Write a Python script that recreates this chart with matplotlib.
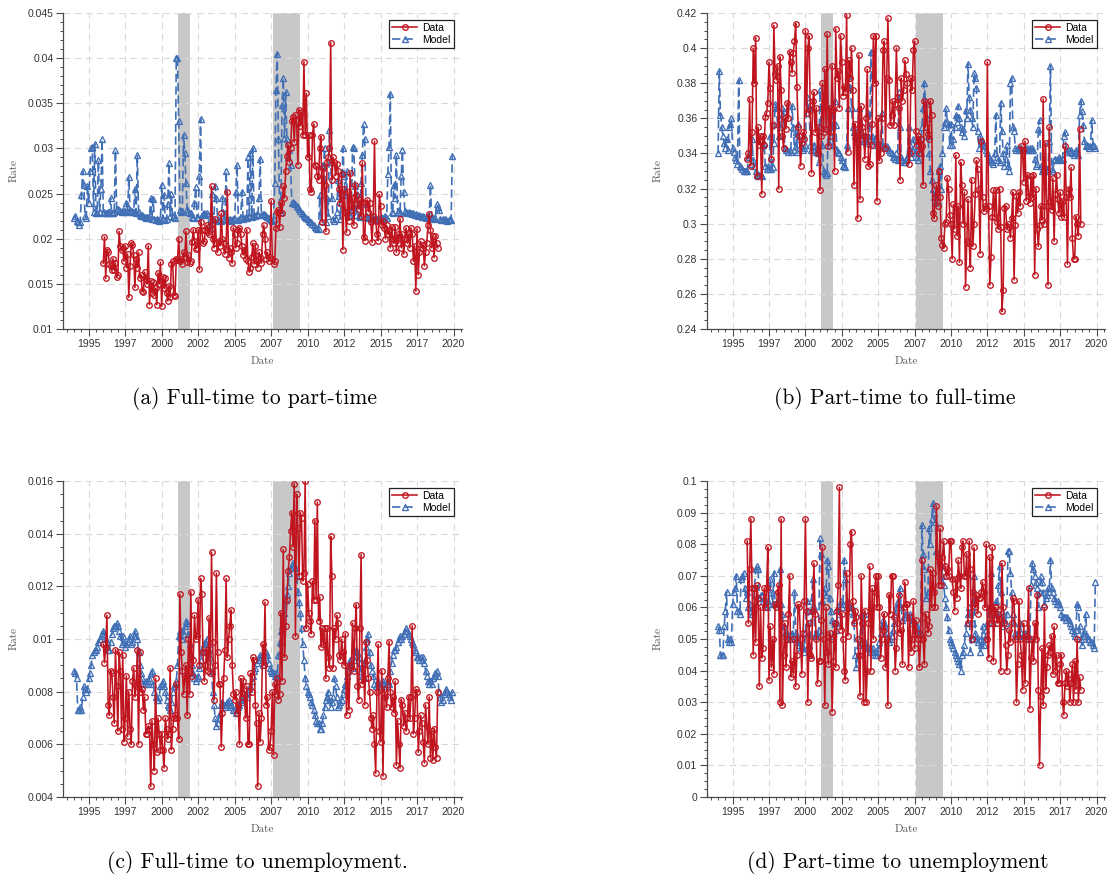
import numpy as np
import matplotlib
matplotlib.use("Agg")
import matplotlib.pyplot as plt
from matplotlib.ticker import MultipleLocator, FuncFormatter

# ── Series: monthly rates, one row per year ──────────────────────────────────
DATA_START = 1996    # data series start Jan 1996
MODEL_START = 1994   # model series start Jan 1994

RECESSIONS = [(2001.10, 2001.92), (2007.60, 2009.48)]

# (a) Full-time to part-time
ft_pt_data = [
    0.0173, 0.0202, 0.0156, 0.0188, 0.0185, 0.0172, 0.0170, 0.0165, 0.0178, 0.0165, 0.0173, 0.0158,  # 1996
    0.0160, 0.0208, 0.0192, 0.0187, 0.0190, 0.0175, 0.0192, 0.0168, 0.0183, 0.0135, 0.0170, 0.0195,  # 1997
    0.0193, 0.0182, 0.0146, 0.0178, 0.0168, 0.0185, 0.0157, 0.0160, 0.0142, 0.0141, 0.0163, 0.0155,  # 1998
    0.0150, 0.0192, 0.0127, 0.0153, 0.0140, 0.0152, 0.0138, 0.0145, 0.0127, 0.0162, 0.0150, 0.0174,  # 1999
    0.0125, 0.0158, 0.0145, 0.0157, 0.0140, 0.0131, 0.0148, 0.0135, 0.0172, 0.0175, 0.0138, 0.0137,  # 2000
    0.0177, 0.0176, 0.0200, 0.0175, 0.0178, 0.0172, 0.0185, 0.0180, 0.0208, 0.0174, 0.0182, 0.0173,  # 2001
    0.0175, 0.0196, 0.0210, 0.0198, 0.0189, 0.0190, 0.0210, 0.0166, 0.0219, 0.0210, 0.0195, 0.0197,  # 2002
    0.0210, 0.0215, 0.0207, 0.0205, 0.0214, 0.0258, 0.0200, 0.0190, 0.0222, 0.0195, 0.0185, 0.0198,  # 2003
    0.0192, 0.0228, 0.0200, 0.0195, 0.0183, 0.0189, 0.0252, 0.0179, 0.0190, 0.0185, 0.0173, 0.0212,  # 2004
    0.0205, 0.0190, 0.0195, 0.0210, 0.0212, 0.0205, 0.0192, 0.0182, 0.0188, 0.0178, 0.0210, 0.0175,  # 2005
    0.0163, 0.0168, 0.0180, 0.0195, 0.0172, 0.0192, 0.0175, 0.0168, 0.0185, 0.0180, 0.0173, 0.0205,  # 2006
    0.0215, 0.0200, 0.0178, 0.0185, 0.0175, 0.0180, 0.0242, 0.0178, 0.0172, 0.0175, 0.0212, 0.0230,  # 2007
    0.0232, 0.0213, 0.0240, 0.0228, 0.0258, 0.0245, 0.0275, 0.0292, 0.0304, 0.0285, 0.0300, 0.0330,  # 2008
    0.0335, 0.0307, 0.0337, 0.0330, 0.0282, 0.0343, 0.0325, 0.0340, 0.0315, 0.0396, 0.0315, 0.0361,  # 2009
    0.0290, 0.0315, 0.0255, 0.0252, 0.0315, 0.0327, 0.0282, 0.0280, 0.0270, 0.0265, 0.0300, 0.0313,  # 2010
    0.0218, 0.0278, 0.0260, 0.0208, 0.0285, 0.0290, 0.0300, 0.0417, 0.0265, 0.0290, 0.0285, 0.0270,  # 2011
    0.0283, 0.0275, 0.0255, 0.0240, 0.0272, 0.0188, 0.0255, 0.0230, 0.0207, 0.0252, 0.0220, 0.0273,  # 2012
    0.0232, 0.0245, 0.0215, 0.0260, 0.0248, 0.0238, 0.0233, 0.0243, 0.0225, 0.0284, 0.0202, 0.0198,  # 2013
    0.0240, 0.0243, 0.0230, 0.0240, 0.0218, 0.0196, 0.0225, 0.0308, 0.0220, 0.0205, 0.0198, 0.0249,  # 2014
    0.0236, 0.0215, 0.0220, 0.0212, 0.0200, 0.0215, 0.0205, 0.0210, 0.0190, 0.0213, 0.0200, 0.0195,  # 2015
    0.0213, 0.0185, 0.0205, 0.0195, 0.0222, 0.0190, 0.0205, 0.0183, 0.0200, 0.0212, 0.0195, 0.0205,  # 2016
    0.0190, 0.0212, 0.0205, 0.0175, 0.0192, 0.0142, 0.0211, 0.0160, 0.0185, 0.0197, 0.0190, 0.0193,  # 2017
    0.0170, 0.0185, 0.0195, 0.0215, 0.0227, 0.0210, 0.0190, 0.0203, 0.0179, 0.0203, 0.0195, 0.0190,  # 2018
]
ft_pt_model = [
    0.0223, 0.0225, 0.0220, 0.0218, 0.0215, 0.0218, 0.0248, 0.0275, 0.0260, 0.0225, 0.0223, 0.0258,  # 1994
    0.0240, 0.0275, 0.0300, 0.0302, 0.0230, 0.0305, 0.0228, 0.0229, 0.0287, 0.0230, 0.0255, 0.0310,  # 1995
    0.0229, 0.0230, 0.0228, 0.0229, 0.0230, 0.0229, 0.0245, 0.0228, 0.0229, 0.0230, 0.0298, 0.0233,  # 1996
    0.0233, 0.0232, 0.0231, 0.0230, 0.0232, 0.0230, 0.0231, 0.0240, 0.0230, 0.0268, 0.0232, 0.0230,  # 1997
    0.0231, 0.0230, 0.0255, 0.0229, 0.0293, 0.0230, 0.0226, 0.0225, 0.0226, 0.0225, 0.0224, 0.0223,  # 1998
    0.0224, 0.0223, 0.0224, 0.0245, 0.0222, 0.0244, 0.0222, 0.0221, 0.0222, 0.0221, 0.0220, 0.0222,  # 1999
    0.0260, 0.0222, 0.0248, 0.0221, 0.0222, 0.0238, 0.0284, 0.0225, 0.0250, 0.0224, 0.0226, 0.0223,  # 2000
    0.0400, 0.0400, 0.0330, 0.0232, 0.0230, 0.0231, 0.0315, 0.0295, 0.0262, 0.0233, 0.0230, 0.0229,  # 2001
    0.0228, 0.0224, 0.0223, 0.0240, 0.0257, 0.0224, 0.0223, 0.0270, 0.0333, 0.0226, 0.0227, 0.0228,  # 2002
    0.0227, 0.0228, 0.0226, 0.0215, 0.0212, 0.0250, 0.0222, 0.0221, 0.0258, 0.0245, 0.0222, 0.0220,  # 2003
    0.0221, 0.0220, 0.0245, 0.0222, 0.0221, 0.0275, 0.0222, 0.0221, 0.0222, 0.0220, 0.0221, 0.0222,  # 2004
    0.0222, 0.0252, 0.0282, 0.0221, 0.0222, 0.0223, 0.0252, 0.0222, 0.0223, 0.0224, 0.0223, 0.0290,  # 2005
    0.0225, 0.0295, 0.0224, 0.0300, 0.0226, 0.0225, 0.0227, 0.0226, 0.0245, 0.0288, 0.0226, 0.0227,  # 2006
    0.0227, 0.0226, 0.0225, 0.0224, 0.0223, 0.0222, 0.0221, 0.0220, 0.0222, 0.0262, 0.0365, 0.0405,  # 2007
    0.0310, 0.0232, 0.0230, 0.0348, 0.0378, 0.0312, 0.0362, 0.0310, 0.0290, 0.0298, 0.0282, 0.0240,  # 2008
    0.0241, 0.0240, 0.0238, 0.0236, 0.0235, 0.0233, 0.0231, 0.0229, 0.0227, 0.0225, 0.0224, 0.0223,  # 2009
    0.0222, 0.0220, 0.0219, 0.0218, 0.0216, 0.0215, 0.0213, 0.0212, 0.0211, 0.0211, 0.0248, 0.0220,  # 2010
    0.0280, 0.0282, 0.0300, 0.0218, 0.0245, 0.0225, 0.0320, 0.0285, 0.0245, 0.0222, 0.0220, 0.0222,  # 2011
    0.0230, 0.0265, 0.0247, 0.0222, 0.0250, 0.0300, 0.0270, 0.0248, 0.0275, 0.0230, 0.0225, 0.0226,  # 2012
    0.0232, 0.0302, 0.0300, 0.0258, 0.0226, 0.0250, 0.0225, 0.0224, 0.0262, 0.0293, 0.0327, 0.0310,  # 2013
    0.0238, 0.0224, 0.0223, 0.0225, 0.0224, 0.0222, 0.0223, 0.0222, 0.0221, 0.0222, 0.0223, 0.0222,  # 2014
    0.0224, 0.0223, 0.0222, 0.0224, 0.0225, 0.0223, 0.0272, 0.0302, 0.0360, 0.0230, 0.0229, 0.0260,  # 2015
    0.0245, 0.0293, 0.0230, 0.0232, 0.0228, 0.0270, 0.0298, 0.0252, 0.0231, 0.0230, 0.0229, 0.0230,  # 2016
    0.0229, 0.0228, 0.0227, 0.0228, 0.0226, 0.0227, 0.0226, 0.0225, 0.0226, 0.0225, 0.0224, 0.0225,  # 2017
    0.0224, 0.0223, 0.0224, 0.0225, 0.0223, 0.0260, 0.0224, 0.0223, 0.0222, 0.0223, 0.0238, 0.0235,  # 2018
    0.0232, 0.0222, 0.0221, 0.0222, 0.0221, 0.0222, 0.0221, 0.0220, 0.0221, 0.0222, 0.0221, 0.0292,  # 2019
]

# (b) Part-time to full-time
pt_ft_data = [
    0.337, 0.340, 0.371, 0.333, 0.352, 0.400, 0.380, 0.406, 0.327, 0.355, 0.345, 0.350,  # 1996
    0.317, 0.350, 0.345, 0.361, 0.363, 0.369, 0.392, 0.377, 0.337, 0.356, 0.413, 0.385,  # 1997
    0.382, 0.390, 0.320, 0.395, 0.376, 0.350, 0.343, 0.360, 0.354, 0.369, 0.360, 0.398,  # 1998
    0.392, 0.386, 0.397, 0.404, 0.414, 0.378, 0.355, 0.350, 0.333, 0.346, 0.352, 0.348,  # 1999
    0.410, 0.363, 0.400, 0.407, 0.365, 0.329, 0.370, 0.375, 0.352, 0.366, 0.340, 0.355,  # 2000
    0.319, 0.350, 0.380, 0.352, 0.388, 0.354, 0.408, 0.344, 0.366, 0.350, 0.390, 0.365,  # 2001
    0.330, 0.411, 0.383, 0.387, 0.366, 0.407, 0.392, 0.373, 0.378, 0.375, 0.419, 0.341,  # 2002
    0.393, 0.383, 0.400, 0.376, 0.322, 0.357, 0.350, 0.303, 0.396, 0.314, 0.367, 0.355,  # 2003
    0.350, 0.337, 0.360, 0.388, 0.333, 0.334, 0.345, 0.357, 0.407, 0.380, 0.407, 0.313,  # 2004
    0.360, 0.336, 0.340, 0.360, 0.399, 0.404, 0.343, 0.383, 0.417, 0.382, 0.356, 0.362,  # 2005
    0.370, 0.356, 0.368, 0.400, 0.372, 0.366, 0.325, 0.383, 0.370, 0.376, 0.393, 0.385,  # 2006
    0.380, 0.334, 0.340, 0.383, 0.376, 0.399, 0.404, 0.353, 0.345, 0.350, 0.340, 0.348,  # 2007
    0.344, 0.322, 0.370, 0.355, 0.368, 0.351, 0.348, 0.370, 0.362, 0.306, 0.303, 0.315,  # 2008
    0.322, 0.310, 0.330, 0.315, 0.292, 0.288, 0.286, 0.300, 0.301, 0.326, 0.320, 0.305,  # 2009
    0.300, 0.280, 0.311, 0.297, 0.339, 0.293, 0.310, 0.278, 0.335, 0.322, 0.300, 0.318,  # 2010
    0.264, 0.290, 0.314, 0.289, 0.275, 0.325, 0.287, 0.300, 0.317, 0.336, 0.331, 0.320,  # 2011
    0.283, 0.347, 0.315, 0.307, 0.310, 0.309, 0.392, 0.310, 0.265, 0.281, 0.304, 0.319,  # 2012
    0.304, 0.319, 0.301, 0.297, 0.320, 0.298, 0.250, 0.262, 0.309, 0.310, 0.297, 0.300,  # 2013
    0.298, 0.292, 0.303, 0.318, 0.268, 0.299, 0.316, 0.306, 0.318, 0.310, 0.344, 0.342,  # 2014
    0.324, 0.347, 0.313, 0.328, 0.316, 0.312, 0.327, 0.315, 0.328, 0.271, 0.320, 0.297,  # 2015
    0.287, 0.299, 0.310, 0.302, 0.371, 0.300, 0.346, 0.310, 0.265, 0.355, 0.313, 0.308,  # 2016
    0.326, 0.290, 0.317, 0.328, 0.314, 0.306, 0.318, 0.304, 0.313, 0.304, 0.344, 0.315,  # 2017
    0.277, 0.320, 0.315, 0.332, 0.292, 0.280, 0.280, 0.304, 0.300, 0.293, 0.354, 0.300,  # 2018
]
pt_ft_model = [
    0.340, 0.387, 0.362, 0.355, 0.350, 0.346, 0.343, 0.348, 0.342, 0.355, 0.357, 0.360,  # 1994
    0.343, 0.341, 0.338, 0.336, 0.334, 0.382, 0.333, 0.332, 0.331, 0.330, 0.330, 0.330,  # 1995
    0.330, 0.338, 0.341, 0.334, 0.348, 0.336, 0.333, 0.330, 0.328, 0.327, 0.328, 0.328,  # 1996
    0.327, 0.345, 0.346, 0.333, 0.331, 0.333, 0.331, 0.350, 0.331, 0.332, 0.346, 0.368,  # 1997
    0.366, 0.357, 0.350, 0.355, 0.360, 0.366, 0.364, 0.343, 0.342, 0.342, 0.341, 0.342,  # 1998
    0.341, 0.367, 0.355, 0.342, 0.352, 0.341, 0.357, 0.348, 0.345, 0.343, 0.342, 0.343,  # 1999
    0.345, 0.372, 0.366, 0.367, 0.345, 0.342, 0.344, 0.345, 0.342, 0.341, 0.340, 0.335,  # 2000
    0.376, 0.355, 0.345, 0.330, 0.329, 0.328, 0.329, 0.366, 0.345, 0.355, 0.362, 0.345,  # 2001
    0.370, 0.356, 0.342, 0.341, 0.340, 0.338, 0.336, 0.333, 0.333, 0.332, 0.345, 0.366,  # 2002
    0.384, 0.378, 0.366, 0.355, 0.352, 0.350, 0.349, 0.347, 0.366, 0.358, 0.352, 0.349,  # 2003
    0.347, 0.350, 0.346, 0.347, 0.363, 0.348, 0.398, 0.350, 0.345, 0.349, 0.348, 0.346,  # 2004
    0.345, 0.344, 0.345, 0.363, 0.344, 0.344, 0.343, 0.344, 0.343, 0.342, 0.341, 0.340,  # 2005
    0.338, 0.338, 0.337, 0.340, 0.336, 0.375, 0.355, 0.338, 0.336, 0.335, 0.335, 0.336,  # 2006
    0.338, 0.355, 0.345, 0.338, 0.342, 0.348, 0.344, 0.340, 0.338, 0.336, 0.348, 0.340,  # 2007
    0.355, 0.366, 0.380, 0.370, 0.360, 0.350, 0.340, 0.330, 0.325, 0.320, 0.315, 0.312,  # 2008
    0.318, 0.313, 0.330, 0.333, 0.320, 0.340, 0.355, 0.358, 0.366, 0.358, 0.357, 0.345,  # 2009
    0.357, 0.345, 0.348, 0.355, 0.362, 0.358, 0.367, 0.360, 0.355, 0.352, 0.354, 0.350,  # 2010
    0.365, 0.360, 0.391, 0.372, 0.365, 0.360, 0.355, 0.386, 0.383, 0.377, 0.353, 0.343,  # 2011
    0.350, 0.347, 0.346, 0.345, 0.344, 0.342, 0.340, 0.338, 0.337, 0.336, 0.335, 0.334,  # 2012
    0.340, 0.362, 0.338, 0.336, 0.335, 0.369, 0.353, 0.340, 0.333, 0.337, 0.345, 0.333,  # 2013
    0.330, 0.380, 0.383, 0.355, 0.353, 0.343, 0.342, 0.343, 0.342, 0.343, 0.343, 0.342,  # 2014
    0.342, 0.343, 0.342, 0.343, 0.342, 0.343, 0.342, 0.343, 0.342, 0.337, 0.333, 0.334,  # 2015
    0.354, 0.359, 0.333, 0.330, 0.331, 0.330, 0.331, 0.330, 0.331, 0.347, 0.390, 0.331,  # 2016
    0.330, 0.336, 0.337, 0.336, 0.337, 0.338, 0.337, 0.336, 0.337, 0.350, 0.352, 0.342,  # 2017
    0.341, 0.342, 0.341, 0.342, 0.340, 0.339, 0.341, 0.342, 0.340, 0.339, 0.362, 0.370,  # 2018
    0.364, 0.356, 0.347, 0.344, 0.345, 0.344, 0.343, 0.344, 0.359, 0.345, 0.344, 0.343,  # 2019
]

# (c) Full-time to unemployment
ft_un_data = [
    0.0098, 0.0091, 0.0097, 0.0109, 0.0075, 0.0071, 0.0088, 0.0087, 0.0078, 0.0068, 0.0096, 0.0082,  # 1996
    0.0065, 0.0095, 0.0088, 0.0066, 0.0094, 0.0061, 0.0070, 0.0086, 0.0063, 0.0080, 0.0066, 0.0060,  # 1997
    0.0084, 0.0089, 0.0078, 0.0082, 0.0096, 0.0060, 0.0095, 0.0080, 0.0081, 0.0073, 0.0078, 0.0064,  # 1998
    0.0064, 0.0067, 0.0066, 0.0044, 0.0069, 0.0060, 0.0050, 0.0085, 0.0057, 0.0070, 0.0064, 0.0058,  # 1999
    0.0064, 0.0058, 0.0051, 0.0070, 0.0066, 0.0062, 0.0064, 0.0089, 0.0058, 0.0066, 0.0070, 0.0071,  # 2000
    0.0083, 0.0070, 0.0062, 0.0117, 0.0095, 0.0088, 0.0079, 0.0085, 0.0090, 0.0071, 0.0100, 0.0079,  # 2001
    0.0118, 0.0086, 0.0092, 0.0109, 0.0100, 0.0101, 0.0115, 0.0090, 0.0123, 0.0117, 0.0095, 0.0084,  # 2002
    0.0090, 0.0096, 0.0088, 0.0108, 0.0087, 0.0133, 0.0099, 0.0077, 0.0090, 0.0125, 0.0095, 0.0083,  # 2003
    0.0083, 0.0059, 0.0072, 0.0085, 0.0096, 0.0123, 0.0093, 0.0100, 0.0105, 0.0111, 0.0090, 0.0079,  # 2004
    0.0077, 0.0080, 0.0072, 0.0075, 0.0060, 0.0085, 0.0078, 0.0084, 0.0079, 0.0070, 0.0082, 0.0060,  # 2005
    0.0060, 0.0087, 0.0080, 0.0093, 0.0092, 0.0075, 0.0068, 0.0044, 0.0072, 0.0061, 0.0070, 0.0098,  # 2006
    0.0090, 0.0114, 0.0075, 0.0078, 0.0058, 0.0059, 0.0065, 0.0080, 0.0056, 0.0083, 0.0079, 0.0085,  # 2007
    0.0077, 0.0079, 0.0110, 0.0084, 0.0134, 0.0093, 0.0105, 0.0115, 0.0126, 0.0131, 0.0141, 0.0148,  # 2008
    0.0135, 0.0159, 0.0101, 0.0155, 0.0142, 0.0124, 0.0148, 0.0146, 0.0122, 0.0125, 0.0160, 0.0104,  # 2009
    0.0121, 0.0110, 0.0107, 0.0102, 0.0122, 0.0115, 0.0145, 0.0115, 0.0152, 0.0107, 0.0116, 0.0097,  # 2010
    0.0104, 0.0098, 0.0104, 0.0085, 0.0104, 0.0093, 0.0089, 0.0139, 0.0124, 0.0089, 0.0104, 0.0100,  # 2011
    0.0109, 0.0106, 0.0094, 0.0092, 0.0100, 0.0095, 0.0090, 0.0102, 0.0071, 0.0088, 0.0073, 0.0090,  # 2012
    0.0090, 0.0106, 0.0088, 0.0104, 0.0113, 0.0082, 0.0077, 0.0104, 0.0132, 0.0083, 0.0090, 0.0075,  # 2013
    0.0099, 0.0092, 0.0085, 0.0080, 0.0070, 0.0066, 0.0071, 0.0060, 0.0049, 0.0080, 0.0098, 0.0065,  # 2014
    0.0061, 0.0088, 0.0048, 0.0081, 0.0078, 0.0074, 0.0085, 0.0099, 0.0080, 0.0074, 0.0078, 0.0072,  # 2015
    0.0084, 0.0052, 0.0069, 0.0060, 0.0051, 0.0077, 0.0075, 0.0067, 0.0072, 0.0065, 0.0070, 0.0078,  # 2016
    0.0070, 0.0078, 0.0105, 0.0064, 0.0070, 0.0081, 0.0080, 0.0057, 0.0065, 0.0071, 0.0068, 0.0061,  # 2017
    0.0053, 0.0075, 0.0067, 0.0060, 0.0078, 0.0055, 0.0065, 0.0054, 0.0066, 0.0059, 0.0055, 0.0080,  # 2018
]
ft_un_model = [
    0.0088, 0.0087, 0.0085, 0.0073, 0.0073, 0.0074, 0.0073, 0.0078, 0.0082, 0.0081, 0.0080, 0.0081,  # 1994
    0.0085, 0.0087, 0.0090, 0.0094, 0.0095, 0.0096, 0.0096, 0.0097, 0.0099, 0.0100, 0.0101, 0.0102,  # 1995
    0.0103, 0.0102, 0.0100, 0.0097, 0.0096, 0.0096, 0.0099, 0.0102, 0.0104, 0.0105, 0.0105, 0.0106,  # 1996
    0.0105, 0.0103, 0.0101, 0.0098, 0.0101, 0.0099, 0.0097, 0.0098, 0.0099, 0.0100, 0.0101, 0.0098,  # 1997
    0.0099, 0.0101, 0.0103, 0.0101, 0.0100, 0.0095, 0.0090, 0.0087, 0.0085, 0.0083, 0.0083, 0.0084,  # 1998
    0.0083, 0.0084, 0.0085, 0.0087, 0.0088, 0.0083, 0.0080, 0.0078, 0.0077, 0.0077, 0.0078, 0.0082,  # 1999
    0.0083, 0.0084, 0.0082, 0.0080, 0.0077, 0.0075, 0.0074, 0.0073, 0.0076, 0.0080, 0.0082, 0.0083,  # 2000
    0.0084, 0.0090, 0.0101, 0.0103, 0.0103, 0.0100, 0.0102, 0.0105, 0.0107, 0.0106, 0.0102, 0.0098,  # 2001
    0.0094, 0.0090, 0.0087, 0.0085, 0.0084, 0.0085, 0.0086, 0.0089, 0.0092, 0.0095, 0.0097, 0.0098,  # 2002
    0.0099, 0.0100, 0.0098, 0.0096, 0.0093, 0.0088, 0.0080, 0.0075, 0.0070, 0.0067, 0.0068, 0.0070,  # 2003
    0.0072, 0.0075, 0.0076, 0.0075, 0.0074, 0.0075, 0.0076, 0.0077, 0.0076, 0.0075, 0.0074, 0.0073,  # 2004
    0.0073, 0.0072, 0.0073, 0.0074, 0.0075, 0.0077, 0.0076, 0.0077, 0.0078, 0.0079, 0.0078, 0.0080,  # 2005
    0.0081, 0.0082, 0.0084, 0.0086, 0.0088, 0.0089, 0.0091, 0.0092, 0.0093, 0.0094, 0.0093, 0.0090,  # 2006
    0.0092, 0.0094, 0.0095, 0.0094, 0.0091, 0.0089, 0.0088, 0.0087, 0.0087, 0.0086, 0.0087, 0.0085,  # 2007
    0.0094, 0.0099, 0.0103, 0.0105, 0.0107, 0.0110, 0.0115, 0.0117, 0.0120, 0.0125, 0.0127, 0.0128,  # 2008
    0.0129, 0.0128, 0.0127, 0.0124, 0.0118, 0.0114, 0.0110, 0.0104, 0.0098, 0.0092, 0.0085, 0.0082,  # 2009
    0.0080, 0.0079, 0.0078, 0.0076, 0.0075, 0.0073, 0.0071, 0.0069, 0.0068, 0.0068, 0.0066, 0.0066,  # 2010
    0.0068, 0.0071, 0.0074, 0.0077, 0.0078, 0.0080, 0.0077, 0.0074, 0.0076, 0.0078, 0.0085, 0.0082,  # 2011
    0.0078, 0.0074, 0.0075, 0.0076, 0.0077, 0.0079, 0.0081, 0.0083, 0.0086, 0.0088, 0.0090, 0.0092,  # 2012
    0.0091, 0.0089, 0.0092, 0.0094, 0.0096, 0.0095, 0.0093, 0.0091, 0.0088, 0.0086, 0.0085, 0.0092,  # 2013
    0.0097, 0.0100, 0.0102, 0.0095, 0.0090, 0.0088, 0.0086, 0.0083, 0.0082, 0.0083, 0.0084, 0.0083,  # 2014
    0.0082, 0.0083, 0.0084, 0.0083, 0.0082, 0.0083, 0.0084, 0.0083, 0.0088, 0.0091, 0.0094, 0.0096,  # 2015
    0.0096, 0.0097, 0.0099, 0.0100, 0.0101, 0.0100, 0.0101, 0.0102, 0.0103, 0.0104, 0.0103, 0.0102,  # 2016
    0.0101, 0.0100, 0.0099, 0.0098, 0.0096, 0.0095, 0.0093, 0.0093, 0.0092, 0.0093, 0.0092, 0.0093,  # 2017
    0.0091, 0.0088, 0.0086, 0.0084, 0.0083, 0.0084, 0.0083, 0.0085, 0.0086, 0.0087, 0.0088, 0.0086,  # 2018
    0.0080, 0.0078, 0.0076, 0.0077, 0.0079, 0.0080, 0.0081, 0.0080, 0.0079, 0.0078, 0.0077, 0.0080,  # 2019
]

# (d) Part-time to unemployment
pt_un_data = [
    0.081, 0.055, 0.072, 0.088, 0.066, 0.045, 0.066, 0.049, 0.067, 0.063, 0.035, 0.060,  # 1996
    0.044, 0.047, 0.066, 0.060, 0.066, 0.079, 0.037, 0.054, 0.041, 0.050, 0.039, 0.061,  # 1997
    0.060, 0.065, 0.067, 0.030, 0.088, 0.029, 0.045, 0.055, 0.041, 0.050, 0.058, 0.070,  # 1998
    0.038, 0.043, 0.039, 0.050, 0.035, 0.045, 0.061, 0.060, 0.050, 0.039, 0.052, 0.062,  # 1999
    0.088, 0.059, 0.030, 0.055, 0.045, 0.044, 0.059, 0.074, 0.058, 0.050, 0.036, 0.043,  # 2000
    0.043, 0.056, 0.079, 0.050, 0.029, 0.060, 0.046, 0.042, 0.052, 0.050, 0.027, 0.043,  # 2001
    0.055, 0.041, 0.059, 0.067, 0.098, 0.053, 0.058, 0.050, 0.040, 0.037, 0.071, 0.051,  # 2002
    0.060, 0.080, 0.084, 0.062, 0.055, 0.059, 0.057, 0.050, 0.045, 0.032, 0.070, 0.055,  # 2003
    0.030, 0.059, 0.030, 0.040, 0.055, 0.073, 0.040, 0.066, 0.050, 0.065, 0.070, 0.060,  # 2004
    0.070, 0.060, 0.044, 0.050, 0.053, 0.058, 0.041, 0.050, 0.029, 0.064, 0.058, 0.070,  # 2005
    0.070, 0.057, 0.040, 0.047, 0.055, 0.064, 0.052, 0.053, 0.042, 0.060, 0.068, 0.061,  # 2006
    0.061, 0.041, 0.057, 0.046, 0.050, 0.062, 0.047, 0.056, 0.052, 0.050, 0.041, 0.050,  # 2007
    0.075, 0.050, 0.042, 0.058, 0.056, 0.052, 0.054, 0.072, 0.060, 0.071, 0.065, 0.060,  # 2008
    0.092, 0.076, 0.067, 0.085, 0.067, 0.076, 0.081, 0.073, 0.070, 0.072, 0.070, 0.081,  # 2009
    0.081, 0.069, 0.065, 0.059, 0.069, 0.063, 0.075, 0.070, 0.066, 0.079, 0.081, 0.070,  # 2010
    0.070, 0.077, 0.055, 0.081, 0.072, 0.050, 0.065, 0.079, 0.060, 0.064, 0.058, 0.063,  # 2011
    0.063, 0.065, 0.068, 0.065, 0.060, 0.080, 0.050, 0.044, 0.076, 0.055, 0.079, 0.043,  # 2012
    0.060, 0.060, 0.055, 0.058, 0.056, 0.040, 0.074, 0.060, 0.055, 0.048, 0.040, 0.045,  # 2013
    0.053, 0.049, 0.055, 0.063, 0.062, 0.050, 0.030, 0.042, 0.062, 0.050, 0.045, 0.034,  # 2014
    0.055, 0.036, 0.050, 0.051, 0.066, 0.028, 0.044, 0.050, 0.043, 0.055, 0.050, 0.064,  # 2015
    0.034, 0.010, 0.032, 0.047, 0.029, 0.060, 0.034, 0.041, 0.045, 0.048, 0.046, 0.051,  # 2016
    0.039, 0.054, 0.040, 0.045, 0.036, 0.036, 0.042, 0.045, 0.030, 0.026, 0.036, 0.040,  # 2017
    0.035, 0.039, 0.030, 0.036, 0.042, 0.030, 0.043, 0.034, 0.050, 0.030, 0.038, 0.034,  # 2018
]
pt_un_model = [
    0.054, 0.053, 0.045, 0.045, 0.045, 0.054, 0.059, 0.065, 0.050, 0.049, 0.050, 0.049,  # 1994
    0.061, 0.065, 0.066, 0.070, 0.059, 0.059, 0.058, 0.069, 0.070, 0.071, 0.066, 0.063,  # 1995
    0.065, 0.060, 0.061, 0.059, 0.058, 0.060, 0.066, 0.072, 0.073, 0.072, 0.063, 0.064,  # 1996
    0.064, 0.062, 0.063, 0.061, 0.060, 0.062, 0.061, 0.069, 0.065, 0.061, 0.071, 0.061,  # 1997
    0.061, 0.062, 0.061, 0.072, 0.061, 0.058, 0.054, 0.052, 0.051, 0.052, 0.051, 0.050,  # 1998
    0.051, 0.052, 0.051, 0.065, 0.052, 0.050, 0.049, 0.048, 0.047, 0.048, 0.047, 0.046,  # 1999
    0.052, 0.062, 0.059, 0.048, 0.045, 0.062, 0.069, 0.060, 0.051, 0.052, 0.051, 0.053,  # 2000
    0.082, 0.077, 0.062, 0.065, 0.066, 0.064, 0.075, 0.073, 0.063, 0.059, 0.056, 0.051,  # 2001
    0.055, 0.053, 0.055, 0.060, 0.058, 0.062, 0.060, 0.061, 0.075, 0.069, 0.062, 0.061,  # 2002
    0.060, 0.059, 0.060, 0.058, 0.056, 0.045, 0.041, 0.045, 0.048, 0.050, 0.058, 0.049,  # 2003
    0.058, 0.049, 0.047, 0.048, 0.047, 0.046, 0.047, 0.046, 0.047, 0.045, 0.046, 0.045,  # 2004
    0.047, 0.049, 0.052, 0.054, 0.056, 0.055, 0.054, 0.052, 0.050, 0.049, 0.050, 0.051,  # 2005
    0.053, 0.055, 0.058, 0.060, 0.062, 0.061, 0.066, 0.060, 0.056, 0.057, 0.058, 0.057,  # 2006
    0.058, 0.057, 0.058, 0.057, 0.055, 0.056, 0.055, 0.053, 0.054, 0.053, 0.052, 0.052,  # 2007
    0.086, 0.077, 0.072, 0.063, 0.064, 0.065, 0.085, 0.080, 0.088, 0.093, 0.090, 0.087,  # 2008
    0.078, 0.077, 0.075, 0.074, 0.073, 0.070, 0.067, 0.063, 0.060, 0.057, 0.053, 0.050,  # 2009
    0.049, 0.048, 0.047, 0.046, 0.045, 0.044, 0.043, 0.042, 0.040, 0.045, 0.046, 0.048,  # 2010
    0.052, 0.055, 0.058, 0.060, 0.046, 0.050, 0.055, 0.070, 0.052, 0.050, 0.049, 0.050,  # 2011
    0.046, 0.048, 0.054, 0.048, 0.050, 0.053, 0.055, 0.060, 0.058, 0.071, 0.060, 0.055,  # 2012
    0.058, 0.062, 0.058, 0.067, 0.073, 0.065, 0.059, 0.054, 0.056, 0.055, 0.058, 0.078,  # 2013
    0.078, 0.071, 0.065, 0.058, 0.055, 0.052, 0.051, 0.052, 0.051, 0.055, 0.052, 0.051,  # 2014
    0.051, 0.052, 0.051, 0.052, 0.051, 0.050, 0.067, 0.074, 0.072, 0.070, 0.068, 0.066,  # 2015
    0.060, 0.065, 0.070, 0.068, 0.065, 0.061, 0.063, 0.064, 0.066, 0.065, 0.075, 0.066,  # 2016
    0.065, 0.063, 0.062, 0.061, 0.062, 0.061, 0.060, 0.058, 0.057, 0.057, 0.057, 0.056,  # 2017
    0.057, 0.056, 0.055, 0.054, 0.053, 0.052, 0.051, 0.053, 0.061, 0.060, 0.054, 0.050,  # 2018
    0.048, 0.052, 0.051, 0.058, 0.051, 0.050, 0.050, 0.049, 0.049, 0.048, 0.047, 0.068,  # 2019
]

# ── Style ────────────────────────────────────────────────────────────────────
C_DATA = "#C0141F"
C_MODEL = "#416FB6"
C_SHADE = "#C8C8C8"
SERIF = ["cmr10", "DejaVu Serif"]
plt.rcParams.update({
    "font.family": ["Liberation Sans", "DejaVu Sans"],
    "font.size": 7.5,
    "axes.unicode_minus": False,
})

W, H = 1109, 880
X_LIM = (1993.24, 2020.58)


def decimal_dates(start, n):
    return start + np.arange(n) / 12.0


def draw_panel(rect, data, model, ylim, ystep, yminor, caption, cap_xy):
    l, t, r, b = rect
    ax = fig.add_axes([l / W, 1 - b / H, (r - l) / W, (b - t) / H])

    for x0, x1 in RECESSIONS:
        ax.axvspan(x0, x1, color=C_SHADE, lw=0, zorder=1)

    ax.plot(decimal_dates(DATA_START, len(data)), data, color=C_DATA, lw=1.15,
            marker="o", ms=4.0, mfc="none", mew=0.95, label="Data", zorder=3)
    ax.plot(decimal_dates(MODEL_START, len(model)), model, color=C_MODEL, lw=1.2,
            ls=(0, (5, 2.5)), marker="^", ms=4.3, mfc="none", mew=0.95,
            label="Model", zorder=2)

    ax.set_xlim(*X_LIM)
    ax.set_ylim(*ylim)
    ax.xaxis.set_major_locator(MultipleLocator(2.5))
    ax.xaxis.set_minor_locator(MultipleLocator(0.5))
    ax.xaxis.set_major_formatter(FuncFormatter(lambda v, p: f"{int(v)}"))
    ax.yaxis.set_major_locator(MultipleLocator(ystep))
    ax.yaxis.set_minor_locator(MultipleLocator(yminor))
    ax.yaxis.set_major_formatter(FuncFormatter(lambda v, p: f"{v:.4g}"))

    ax.grid(True, which="major", color="#DADADA", ls=(0, (6, 4)), lw=0.8, zorder=0)
    for s in ("top", "right"):
        ax.spines[s].set_visible(False)
    for s in ("left", "bottom"):
        ax.spines[s].set_color("#4A4A4A")
        ax.spines[s].set_linewidth(0.9)
    ax.tick_params(which="major", direction="out", length=5, width=0.8,
                   color="#4A4A4A", labelcolor="#333333", labelsize=7.5, pad=2)
    ax.tick_params(which="minor", direction="out", length=2.5, width=0.7,
                   color="#4A4A4A")

    ax.set_ylabel("Rate", family=SERIF, fontsize=8, color="#555555")
    ax.set_xlabel("Date", family=SERIF, fontsize=8, color="#555555")
    ax.yaxis.set_label_coords(-44 / (r - l), 0.5)
    ax.xaxis.set_label_coords(0.5, -27 / (b - t))

    leg = ax.legend(loc="upper right", bbox_to_anchor=(1 - 8 / (r - l), 1 - 7 / (b - t)),
                    borderaxespad=0, fontsize=7.5, fancybox=False, framealpha=1,
                    edgecolor="#222222", handlelength=2.4, borderpad=0.3,
                    labelspacing=0.15, handletextpad=0.5, numpoints=1)
    leg.get_frame().set_linewidth(0.9)

    fig.text(cap_xy[0] / W, 1 - cap_xy[1] / H, caption, family=SERIF,
             fontsize=15.5, ha="center", va="center")
    return ax


fig = plt.figure(figsize=(W / 100, H / 100), dpi=100)

draw_panel((63, 13, 462, 329), ft_pt_data, ft_pt_model, (0.01, 0.045), 0.005, 0.001,
           "(a) Full-time to part-time", (255, 399))
draw_panel((707, 13, 1105, 329), pt_ft_data, pt_ft_model, (0.24, 0.42), 0.02, 0.005,
           "(b) Part-time to full-time", (895, 399))
draw_panel((63, 481, 462, 797), ft_un_data, ft_un_model, (0.004, 0.016), 0.002, 0.0005,
           "(c) Full-time to unemployment.", (257, 862))
draw_panel((707, 481, 1105, 797), pt_un_data, pt_un_model, (0.0, 0.1), 0.01, 0.0025,
           "(d) Part-time to unemployment", (898, 862))

fig.savefig("out.png", dpi=100)
